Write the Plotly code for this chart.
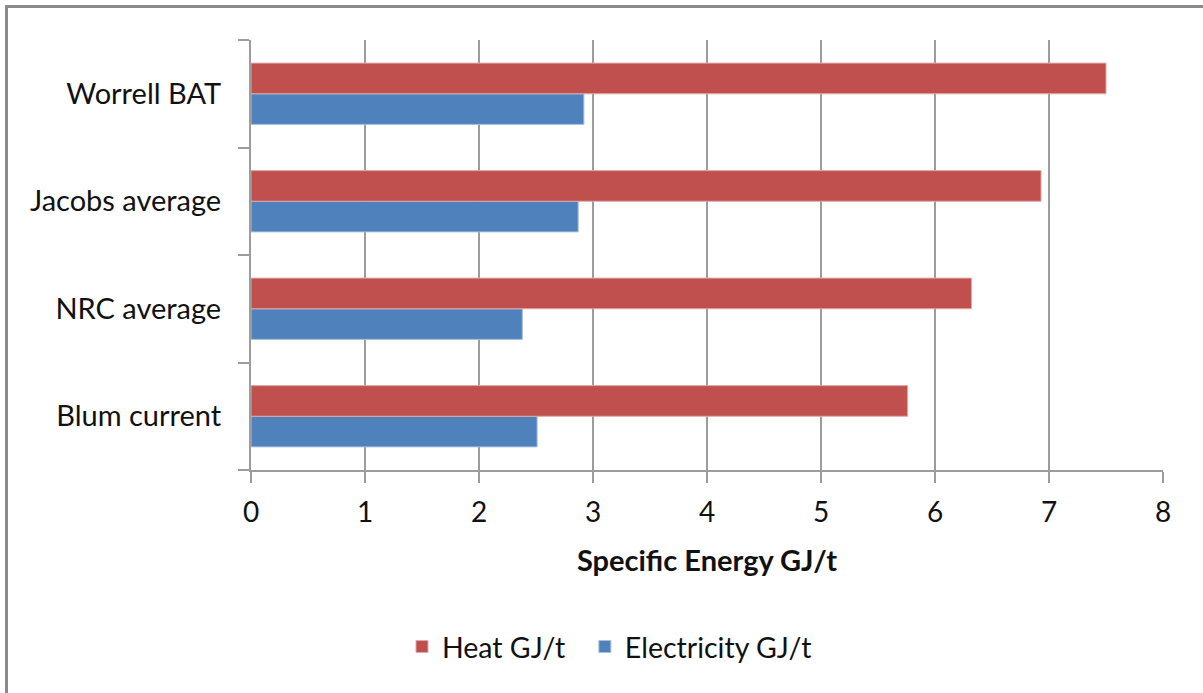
import plotly.graph_objects as go

# Specific energy use per source (GJ per tonne)
sources = ["Blum current", "NRC average", "Jacobs average", "Worrell BAT"]
heat_gj_t = [5.76, 6.32, 6.93, 7.50]
electricity_gj_t = [2.51, 2.38, 2.87, 2.92]
x_ticks = [0, 1, 2, 3, 4, 5, 6, 7, 8]

HEAT_COLOR = "#C0504D"
ELEC_COLOR = "#4F81BD"
GRID = "#9C9C9C"
FONT = "Lato"
TEXT = "#111111"
NBSP = "\u00a0"

fig = go.Figure()
# Electricity first so it sits below Heat inside each category group
fig.add_trace(go.Bar(
    y=sources, x=electricity_gj_t, orientation="h", name="Electricity GJ/t",
    marker=dict(color=ELEC_COLOR, line=dict(color="#A7C0DE", width=1)),
    legendrank=2,
))
fig.add_trace(go.Bar(
    y=sources, x=heat_gj_t, orientation="h",
    name="Heat GJ/t" + NBSP * 2,  # extra room before the next legend entry
    marker=dict(color=HEAT_COLOR, line=dict(color="#E0A8A6", width=1)),
    legendrank=1,
))

W, H = 1203, 693
L, R, T, B = 251, 40, 40, 223
pw, ph = W - L - R, H - T - B


def px_x(px):
    return (px - L) / pw


def px_y(py):
    return (H - B - py) / ph


fig.update_layout(
    width=W, height=H,
    margin=dict(l=L, r=R, t=T, b=B, pad=0),
    paper_bgcolor="white", plot_bgcolor="white",
    barmode="group", bargap=0.43, bargroupgap=0,
    font=dict(family=FONT, size=28, color=TEXT),
    showlegend=True,
    legend=dict(
        orientation="h", x=px_x(402), xanchor="left",
        y=px_y(647), yanchor="middle",
        font=dict(family=FONT, size=28.5, color=TEXT),
        bgcolor="rgba(0,0,0,0)",
    ),
    shapes=[
        # chart frame (left and top edges visible, others run off the page)
        dict(type="rect", xref="paper", yref="paper",
             x0=px_x(6.5), x1=px_x(1230), y0=px_y(720), y1=px_y(6.5),
             line=dict(color="#8A8A8A", width=3), fillcolor="rgba(0,0,0,0)",
             layer="above"),
    ],
)

fig.update_xaxes(
    range=[0, 8], tickvals=x_ticks, ticktext=[str(v) for v in x_ticks],
    showgrid=True, gridcolor=GRID, gridwidth=2,
    showline=True, linecolor=GRID, linewidth=2,
    ticks="outside", ticklen=11, tickcolor=GRID, tickwidth=2,
    ticklabelstandoff=5,
    tickfont=dict(family=FONT, size=28, color=TEXT),
    zeroline=False,
    title=dict(text="<b>Specific Energy GJ/t</b>", standoff=24,
               font=dict(family=FONT, size=29, color=TEXT)),
)
fig.update_yaxes(
    type="category", categoryorder="array", categoryarray=sources,
    range=[-0.5, 3.5],
    showgrid=False, showline=True, linecolor=GRID, linewidth=2,
    ticks="outside", tickson="boundaries", ticklen=11, tickcolor=GRID, tickwidth=2,
    ticklabelstandoff=22,
    tickfont=dict(family=FONT, size=29, color=TEXT),
    zeroline=False,
)

fig.write_html("out.html")
